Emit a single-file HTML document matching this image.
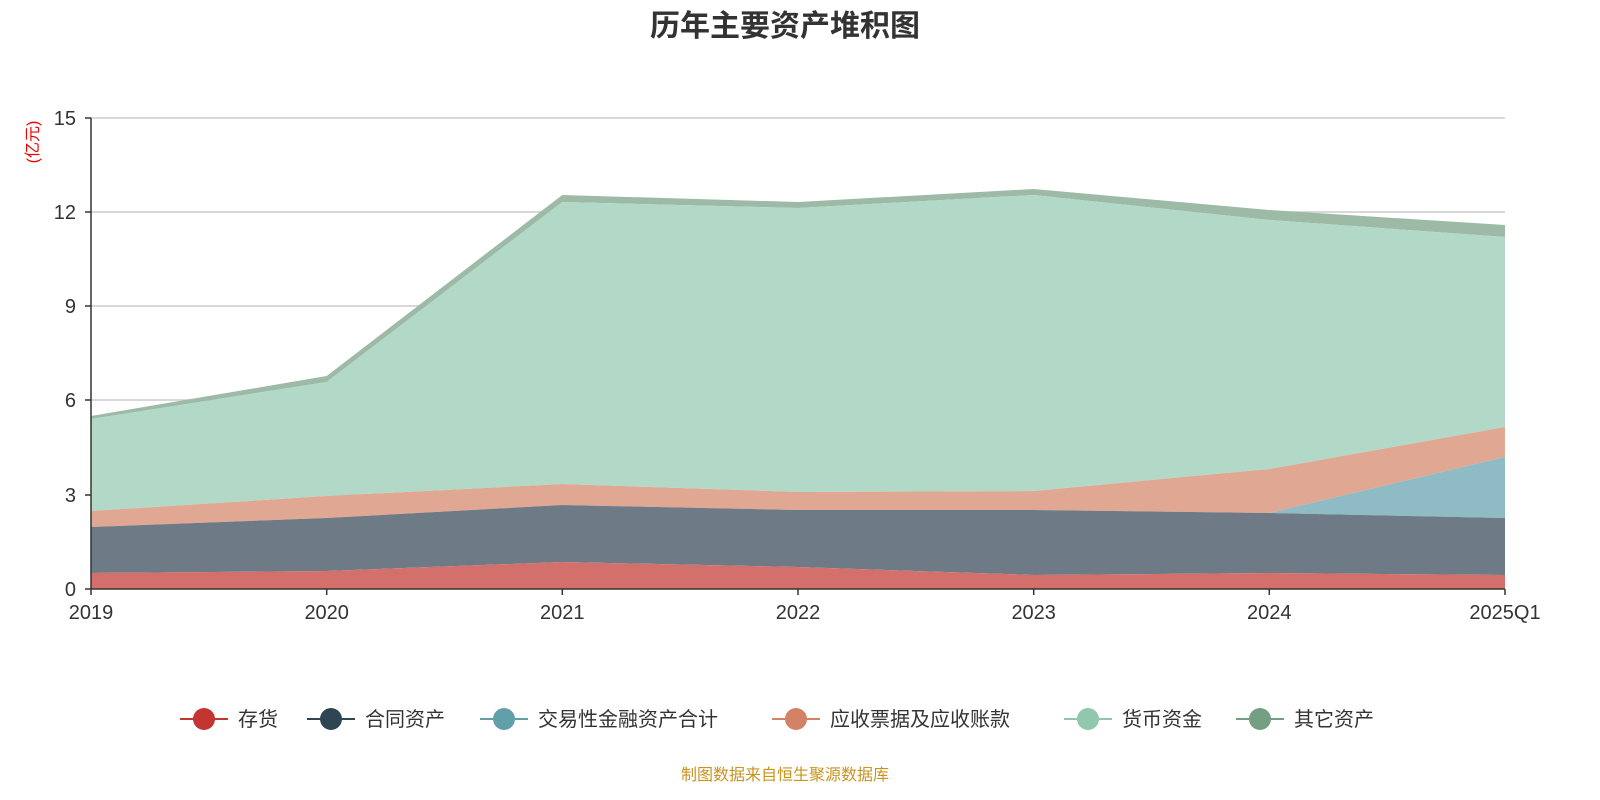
<!DOCTYPE html>
<html><head><meta charset="utf-8"><style>
body{margin:0;background:#fff;}
svg{display:block;font-family:"Liberation Sans","Noto Sans CJK SC",sans-serif;}
</style></head><body>
<svg width="1600" height="800" viewBox="0 0 1600 800">
<text x="785" y="36" text-anchor="middle" font-size="30" font-weight="bold" fill="#333">历年主要资产堆积图</text>
<g stroke="#ccc" stroke-width="1.5">
<line x1="91" y1="118" x2="1505" y2="118"/>
<line x1="91" y1="212" x2="1505" y2="212"/>
<line x1="91" y1="306" x2="1505" y2="306"/>
<line x1="91" y1="400" x2="1505" y2="400"/>
<line x1="91" y1="495" x2="1505" y2="495"/>
</g>
<!-- 其它 -->
<polygon fill="#9dbaa6" points="91,416 326.7,376 562.3,195 798,202 1033.7,189 1269.3,210 1505,225 1505,237 1269.3,220 1033.7,195 798,208 562.3,202 326.7,382 91,419"/>
<!-- 货币 -->
<polygon fill="#b2d9c8" points="91,419 326.7,382 562.3,202 798,208 1033.7,195 1269.3,220 1505,237 1505,427 1269.3,469 1033.7,491 798,492 562.3,484 326.7,496 91,511"/>
<!-- 应收 -->
<polygon fill="#e0a893" points="91,511 326.7,496 562.3,484 798,492 1033.7,491 1269.3,469 1505,427 1505,457 1269.3,513 1033.7,510 798,510 562.3,505 326.7,518 91,527"/>
<!-- 交易 -->
<polygon fill="#8fbbc4" points="1269.3,513 1505,457 1505,518"/>
<!-- 合同 -->
<polygon fill="#6e7b87" points="91,527 326.7,518 562.3,505 798,510 1033.7,510 1269.3,513 1505,518 1505,575 1269.3,573 1033.7,575 798,567 562.3,562 326.7,571 91,573"/>
<!-- 存货 -->
<polygon fill="#d4706c" points="91,573 326.7,571 562.3,562 798,567 1033.7,575 1269.3,573 1505,575 1505,589 91,589"/>
<g stroke="#333" stroke-width="1.5">
<line x1="91" y1="118" x2="91" y2="589"/>
<line x1="91" y1="589" x2="1505" y2="589"/>
<line x1="85" y1="118" x2="91" y2="118"/><line x1="85" y1="212" x2="91" y2="212"/><line x1="85" y1="306" x2="91" y2="306"/><line x1="85" y1="400" x2="91" y2="400"/><line x1="85" y1="495" x2="91" y2="495"/><line x1="85" y1="589" x2="91" y2="589"/>
<line x1="91" y1="589" x2="91" y2="595"/><line x1="326.7" y1="589" x2="326.7" y2="595"/><line x1="562.3" y1="589" x2="562.3" y2="595"/><line x1="798" y1="589" x2="798" y2="595"/><line x1="1033.7" y1="589" x2="1033.7" y2="595"/><line x1="1269.3" y1="589" x2="1269.3" y2="595"/><line x1="1505" y1="589" x2="1505" y2="595"/>
</g>
<g font-size="20" fill="#333" text-anchor="end">
<text x="76" y="125">15</text><text x="76" y="219">12</text><text x="76" y="313">9</text><text x="76" y="407">6</text><text x="76" y="502">3</text><text x="76" y="596">0</text>
</g>
<g font-size="20" fill="#333" text-anchor="middle">
<text x="91" y="619">2019</text><text x="326.7" y="619">2020</text><text x="562.3" y="619">2021</text><text x="798" y="619">2022</text><text x="1033.7" y="619">2023</text><text x="1269.3" y="619">2024</text><text x="1505" y="619">2025Q1</text>
</g>
<text transform="translate(38,142) rotate(-90)" font-size="16" fill="#e00" text-anchor="middle">(亿元)</text>
<g font-size="20" fill="#333">
<line x1="180" y1="719" x2="228" y2="719" stroke="#c23531" stroke-width="2"/><circle cx="204" cy="719" r="11" fill="#c23531"/><text x="238" y="726">存货</text>
<line x1="307" y1="719" x2="355" y2="719" stroke="#2f4554" stroke-width="2"/><circle cx="331" cy="719" r="11" fill="#2f4554"/><text x="365" y="726">合同资产</text>
<line x1="480" y1="719" x2="528" y2="719" stroke="#61a0a8" stroke-width="2"/><circle cx="504" cy="719" r="11" fill="#61a0a8"/><text x="538" y="726">交易性金融资产合计</text>
<line x1="772" y1="719" x2="820" y2="719" stroke="#d48265" stroke-width="2"/><circle cx="796" cy="719" r="11" fill="#d48265"/><text x="830" y="726">应收票据及应收账款</text>
<line x1="1064" y1="719" x2="1112" y2="719" stroke="#91c7ae" stroke-width="2"/><circle cx="1088" cy="719" r="11" fill="#91c7ae"/><text x="1122" y="726">货币资金</text>
<line x1="1236" y1="719" x2="1284" y2="719" stroke="#749f83" stroke-width="2"/><circle cx="1260" cy="719" r="11" fill="#749f83"/><text x="1294" y="726">其它资产</text>
</g>
<text x="785" y="780" text-anchor="middle" font-size="16" fill="#c8941e">制图数据来自恒生聚源数据库</text>
</svg>
</body></html>
